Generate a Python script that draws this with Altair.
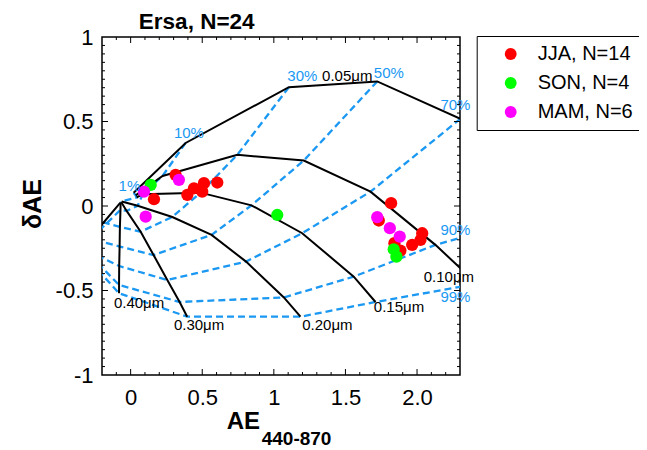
import altair as alt
import pandas as pd

# ---------------- text ----------------
title_text = "Ersa, N=24"
x_title = "AE"
x_title_sub = "440-870"
y_title = "δAE"

# ---------------- seasons (points) ----------------
season_names = ["JJA, N=14", "SON, N=4", "MAM, N=6"]
season_colors = ["#ff0000", "#00ff00", "#ff00ff"]

jja_ae = [0.314, 0.163, 0.396, 0.442, 0.512, 0.500, 0.605, 1.819, 1.733, 2.036, 2.024, 1.966, 1.842, 1.884]
jja_dae = [0.184, 0.040, 0.066, 0.105, 0.135, 0.085, 0.139, 0.017, -0.086, -0.161, -0.201, -0.230, -0.220, -0.264]
son_ae = [0.140, 1.024, 1.837, 1.856]
son_dae = [0.125, -0.053, -0.256, -0.300]
mam_ae = [0.337, 0.093, 0.105, 1.722, 1.810, 1.879]
mam_dae = [0.155, 0.085, -0.063, -0.066, -0.131, -0.181]

# ---------------- grid: fine-mode radius curves x fine-mode fraction ----------------
fractions = [1, 10, 30, 50, 70, 90, 99]
radius_names = ["0.05", "0.10", "0.15", "0.20", "0.30", "0.40", "0.50"]

r005_ae = [0.021, 0.384, 1.105, 1.722, 2.303, 2.652, 2.750]
r005_dae = [0.078, 0.373, 0.703, 0.737, 0.516, -0.106, -0.350]
r010_ae = [0.035, 0.223, 0.745, 1.209, 1.675, 2.128, 2.420]
r010_dae = [0.063, 0.178, 0.303, 0.269, 0.085, -0.230, -0.460]
r015_ae = [0.042, 0.084, 0.488, 0.844, 1.198, 1.558, 1.710]
r015_dae = [0.051, 0.069, 0.079, 0.004, -0.161, -0.418, -0.568]
r020_ae = [-0.063, 0.049, 0.291, 0.565, 0.806, 1.070, 1.186]
r020_dae = [0.027, 0.001, -0.065, -0.171, -0.329, -0.541, -0.655]
r030_ae = [-0.066, -0.028, 0.070, 0.160, 0.256, 0.342, 0.395]
r030_dae = [0.024, -0.029, -0.152, -0.290, -0.438, -0.568, -0.655]
r040_ae = [-0.070, -0.071, -0.075, -0.077, -0.080, -0.081, -0.081]
r040_dae = [0.021, -0.023, -0.124, -0.240, -0.355, -0.467, -0.516]
r050_ae = [-0.073, -0.321, -0.321, -0.321, -0.321, -0.321, -0.321]
r050_dae = [0.018, -0.229, -0.065, -0.184, -0.258, -0.260, -0.293]

radius_ae = [r005_ae, r010_ae, r015_ae, r020_ae, r030_ae, r040_ae, r050_ae]
radius_dae = [r005_dae, r010_dae, r015_dae, r020_dae, r030_dae, r040_dae, r050_dae]

radius_label_text = ["0.05μm", "0.10μm", "0.15μm", "0.20μm", "0.30μm", "0.40μm"]
radius_label_ae = [1.337, 2.047, 1.698, 1.198, 0.302, -0.117]
radius_label_dae = [0.737, -0.448, -0.625, -0.734, -0.734, -0.605]

fraction_label_text = ["1%", "10%", "30%", "50%", "70%", "90%", "99%"]
fraction_label_ae = [-0.084, 0.302, 1.094, 1.698, 2.163, 2.163, 2.163]
fraction_label_dae = [0.089, 0.401, 0.737, 0.757, 0.569, -0.171, -0.566]

# ---------------- axes ----------------
x_domain = [-0.2, 2.3]
y_domain = [-1, 1]
x_tick_values = [0, 0.5, 1, 1.5, 2]
x_tick_labels = ["0", "0.5", "1", "1.5", "2.0"]
y_tick_values = [-1, -0.5, 0, 0.5, 1]
y_tick_labels = ["-1", "-0.5", "0", "0.5", "1"]
x_minor = [v for v in [round(-0.2 + 0.1 * i, 2) for i in range(1, 25)] if v not in x_tick_values]
y_minor = [v for v in [round(-1 + 0.05 * i, 2) for i in range(1, 40)] if v not in y_tick_values]
y_major_inner = [v for v in y_tick_values if -1 < v < 1]

W, H = 358, 338
BLUE = "#1a98f2"
FONT = "Liberation Sans"


def label_expr(values, labels):
    parts = " : ".join(f"datum.value == {v} ? '{l}'" for v, l in zip(values, labels))
    return parts + " : ''"


xs = alt.Scale(domain=x_domain, nice=False, zero=False)
ys = alt.Scale(domain=y_domain, nice=False, zero=False)

x_axis = alt.Axis(values=x_tick_values, labelExpr=label_expr(x_tick_values, x_tick_labels),
                  ticks=False, tickSize=0, domain=False, grid=False, title=None,
                  labelFont=FONT, labelFontSize=22, labelColor="black", labelPadding=12,
                  labelFlush=False)
y_axis = alt.Axis(values=y_tick_values, labelExpr=label_expr(y_tick_values, y_tick_labels),
                  ticks=False, tickSize=0, domain=False, grid=False, title=None,
                  labelFont=FONT, labelFontSize=22, labelColor="black", labelPadding=9,
                  labelFlush=False)


def X(field):
    return alt.X(field, scale=xs, axis=x_axis)


def Y(field):
    return alt.Y(field, scale=ys, axis=y_axis)


# ---------------- tables ----------------
grid_rows = []
for ri, (name, aes, daes) in enumerate(zip(radius_names, radius_ae, radius_dae)):
    for fi, (f, a, d) in enumerate(zip(fractions, aes, daes)):
        grid_rows.append({"radius": name, "r_order": ri, "fraction": f, "f_order": fi, "ae": a, "dae": d})
grid = pd.DataFrame(grid_rows)

pts = pd.concat([
    pd.DataFrame({"season": season_names[0], "ae": jja_ae, "dae": jja_dae}),
    pd.DataFrame({"season": season_names[1], "ae": son_ae, "dae": son_dae}),
    pd.DataFrame({"season": season_names[2], "ae": mam_ae, "dae": mam_dae}),
], ignore_index=True)

rlab = pd.DataFrame({"t": radius_label_text, "ae": radius_label_ae, "dae": radius_label_dae})
flab = pd.DataFrame({"t": fraction_label_text, "ae": fraction_label_ae, "dae": fraction_label_dae})

# ---------------- layers ----------------
blue_lines = alt.Chart(grid).mark_line(color=BLUE, strokeWidth=2.3, strokeDash=[7, 4], clip=True).encode(
    x=X("ae:Q"), y=Y("dae:Q"), detail="fraction:N", order="r_order:Q")

black_lines = alt.Chart(grid).mark_line(color="black", strokeWidth=2, clip=True).encode(
    x=X("ae:Q"), y=Y("dae:Q"), detail="radius:N", order="f_order:Q")

points = alt.Chart(pts).mark_circle(size=150, opacity=1).encode(
    x=X("ae:Q"), y=Y("dae:Q"),
    color=alt.Color("season:N", scale=alt.Scale(domain=season_names, range=season_colors),
                    sort=season_names,
                    legend=alt.Legend(title=None, orient="none", legendX=374.7, legendY=-1,
                                      padding=8, strokeColor="black", fillColor="white",
                                      labelFont=FONT, labelFontSize=20, labelColor="black",
                                      symbolType="circle", symbolSize=140, symbolStrokeWidth=0,
                                      symbolOpacity=1, rowPadding=9, labelOffset=17,
                                      symbolOffset=16)),
)

rtext = alt.Chart(rlab).mark_text(font=FONT, fontSize=15, color="black", align="left",
                                  baseline="alphabetic").encode(x=X("ae:Q"), y=Y("dae:Q"), text="t:N")
ftext = alt.Chart(flab).mark_text(font=FONT, fontSize=15, color=BLUE, align="left",
                                  baseline="alphabetic").encode(x=X("ae:Q"), y=Y("dae:Q"), text="t:N")


def tick_layers(vals, length):
    d = pd.DataFrame({"v": vals})
    b = alt.Chart(d).mark_rule(color="black", strokeWidth=1)
    bottom = b.encode(x=X("v:Q"), y=alt.value(H), y2=alt.value(H - length))
    top = b.encode(x=X("v:Q"), y=alt.value(0), y2=alt.value(length))
    return [bottom, top]


def ytick_layers(vals, length):
    d = pd.DataFrame({"v": vals})
    b = alt.Chart(d).mark_rule(color="black", strokeWidth=1)
    left = b.encode(y=Y("v:Q"), x=alt.value(0), x2=alt.value(length))
    right = b.encode(y=Y("v:Q"), x=alt.value(W), x2=alt.value(W - length))
    return [left, right]


ticks = (tick_layers(x_tick_values, 6) + tick_layers(x_minor, 3)
         + ytick_layers(y_major_inner, 6) + ytick_layers(y_minor, 3))


def free_text(s, x, y, size, angle=0, align="left"):
    return alt.Chart(pd.DataFrame({"t": [s]})).mark_text(
        font=FONT, fontSize=size, fontWeight="bold", color="black", align=align,
        baseline="alphabetic", angle=angle).encode(x=alt.value(x), y=alt.value(y), text="t:N")


titles = [
    free_text(title_text, 94.7, -8, 22.5, align="center"),
    free_text(x_title, 124.7, 392.3, 24),
    free_text(x_title_sub, 159.7, 408, 19),
    free_text(y_title, -61, 167, 25, angle=270, align="center"),
]

chart = alt.layer(blue_lines, black_lines, points, rtext, ftext, *ticks, *titles).properties(
    width=W, height=H,
    autosize=alt.AutoSizeParams(type="none"),
    padding={"left": 94, "top": 29, "right": 179, "bottom": 73},
).configure_view(stroke="black", strokeWidth=1.5)

chart.save("out.html", embed_options={"renderer": "svg", "actions": False})
